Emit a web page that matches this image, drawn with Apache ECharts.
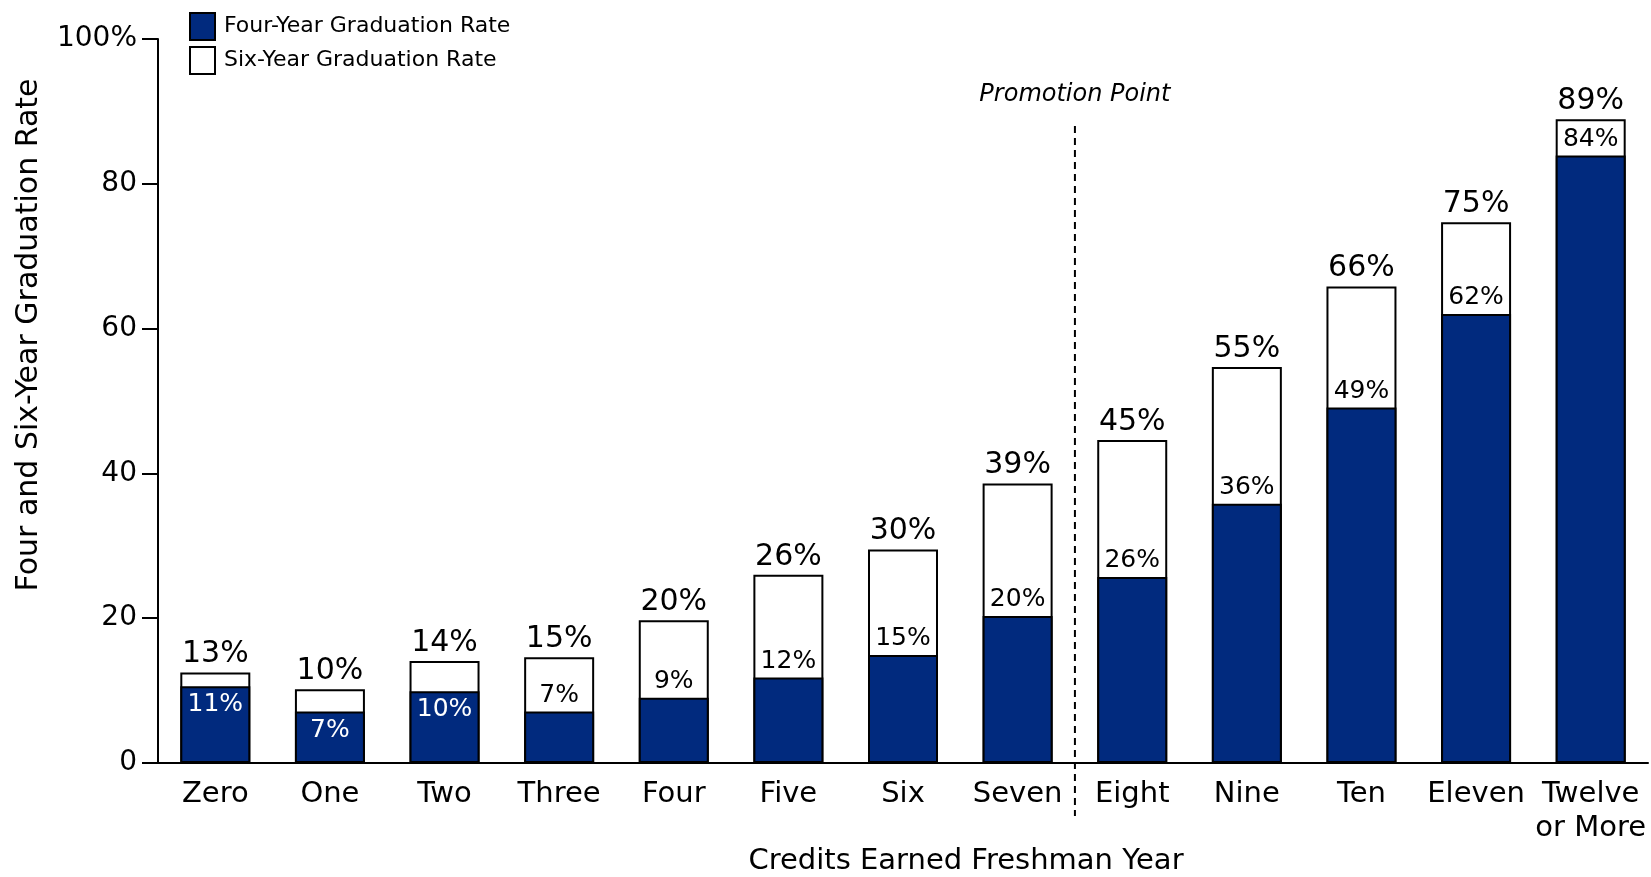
<!DOCTYPE html>
<html>
<head>
<meta charset="utf-8">
<script src="https://cdn.jsdelivr.net/npm/echarts@6/dist/echarts.min.js"></script>
<style>html,body{margin:0;padding:0;background:#fff;}#c{width:1651px;height:877px;}</style>
</head>
<body>
<div id="c"></div>
<script>
const categories = ['Zero','One','Two','Three','Four','Five','Six','Seven','Eight','Nine','Ten','Eleven','Twelve\nor More'];
const sixYear = [12.5, 10.2, 14.1, 14.6, 19.7, 26.0, 29.5, 38.6, 44.6, 54.7, 65.8, 74.7, 88.9];
const fourYear = [10.6, 7.1, 9.9, 7.1, 9.0, 11.8, 14.9, 20.3, 25.7, 35.8, 49.1, 62.0, 83.9];
const sixLabels = ['13','10','14','15','20','26','30','39','45','55','66','75','89'];
const fourLabels = ['11','7','10','7','9','12','15','20','26','36','49','62','84'];
const yTicks = [0, 20, 40, 60, 80, 100];
const insideLabelCount = 3;

const NAVY = '#012a7e';
const FONT = 'DejaVu Sans';
const chart = echarts.init(document.getElementById('c'));

chart.setOption({
  animation: false,
  textStyle: { fontFamily: FONT, color: '#000' },
  grid: { left: 158, right: 3, top: 39, bottom: 114 },
  legend: {
    orient: 'vertical', left: 184, top: 7, itemWidth: 25, itemHeight: 27, itemGap: 5,
    icon: 'rect',
    data: ['Four-Year Graduation Rate', 'Six-Year Graduation Rate'],
    textStyle: { fontSize: 22, color: '#000', fontFamily: FONT, padding: [0, 0, 0, 4] }
  },
  xAxis: {
    type: 'category', data: categories,
    axisTick: { show: false },
    axisLine: { lineStyle: { color: '#000', width: 2 } },
    axisLabel: { interval: 0, fontSize: 29, color: '#000', margin: 14, lineHeight: 34, fontFamily: FONT }
  },
  yAxis: {
    type: 'value', min: yTicks[0], max: yTicks[yTicks.length - 1], interval: 20,
    splitLine: { show: false },
    axisLine: { show: true, lineStyle: { color: '#000', width: 2 } },
    axisTick: { show: true, length: 16, lineStyle: { color: '#000', width: 2 } },
    axisLabel: { fontSize: 28, color: '#000', margin: 21, fontFamily: FONT,
      formatter: v => v === 100 ? '100%' : String(v) }
  },
  series: [
    {
      name: 'Six-Year Graduation Rate', type: 'bar', barWidth: 70,
      data: sixYear,
      itemStyle: { color: '#fff', borderColor: '#000', borderWidth: 2 },
      label: { show: true, position: 'top', distance: 3, fontSize: 30, color: '#000', fontFamily: FONT,
        formatter: p => sixLabels[p.dataIndex] + '%' }
    },
    {
      name: 'Four-Year Graduation Rate', type: 'bar', barWidth: 70, barGap: '-100%',
      data: fourYear.map((v, i) => ({
        value: v,
        label: i < insideLabelCount
          ? { position: 'insideTop', color: '#fff', distance: 6 }
          : { position: 'top', color: '#000', distance: 4 }
      })),
      itemStyle: { color: NAVY, borderColor: '#000', borderWidth: 2 },
      label: { show: true, fontSize: 25, fontFamily: FONT,
        formatter: p => fourLabels[p.dataIndex] + '%' }
    }
  ]
});

const x7 = chart.convertToPixel({ xAxisIndex: 0 }, categories[7]);
const x8 = chart.convertToPixel({ xAxisIndex: 0 }, categories[8]);
const xm = (x7 + x8) / 2;
const yTop = chart.convertToPixel({ yAxisIndex: 0 }, 88);
const y0 = chart.convertToPixel({ yAxisIndex: 0 }, 0);

chart.setOption({
  graphic: [
    { type: 'line', shape: { x1: xm, y1: yTop, x2: xm, y2: y0 + 53 },
      style: { stroke: '#000', lineWidth: 2, lineDash: [7, 5] }, z: 10 },
    { type: 'text', x: xm, y: yTop - 31,
      style: { text: 'Promotion Point', font: 'italic 24px "DejaVu Sans"', fill: '#000', align: 'center', verticalAlign: 'middle' } },
    { type: 'text', x: 29, y: 335, rotation: Math.PI / 2,
      style: { text: 'Four and Six-Year Graduation Rate', font: '30px "DejaVu Sans"', fill: '#000', align: 'center', verticalAlign: 'middle' } },
    { type: 'text', x: 966, y: 861,
      style: { text: 'Credits Earned Freshman Year', font: '29px "DejaVu Sans"', fill: '#000', align: 'center', verticalAlign: 'middle' } }
  ]
});
</script>
</body>
</html>
